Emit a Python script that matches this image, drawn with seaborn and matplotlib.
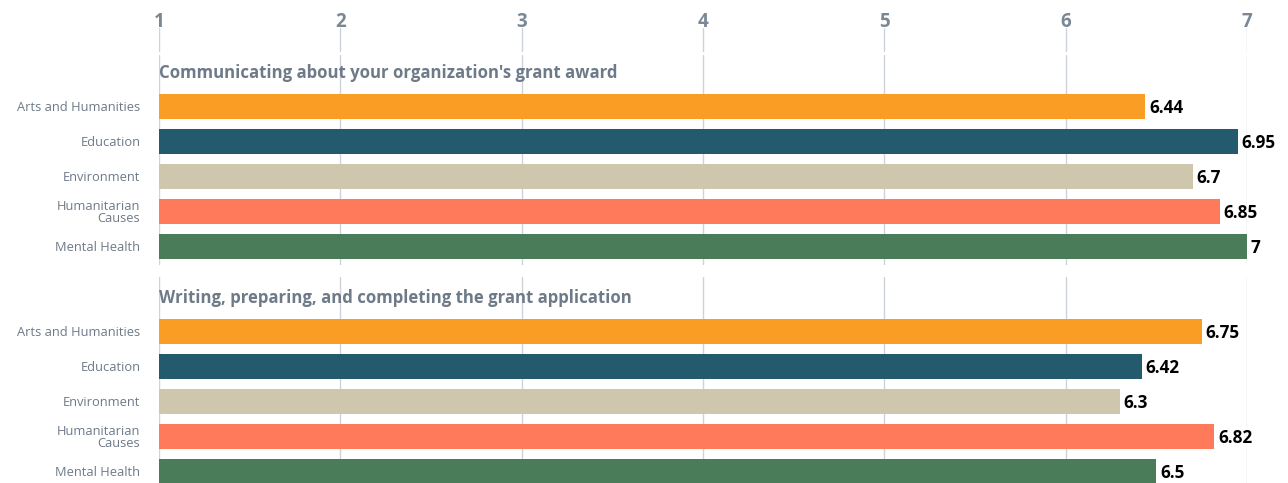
import matplotlib.pyplot as plt
import pandas as pd
import seaborn as sns

categories = ["Arts and Humanities", "Education", "Environment", "Humanitarian\nCauses", "Mental Health"]
colors = ["#F99D25", "#245A6E", "#CFC6AE", "#FF7A5A", "#4A7C59"]
titles = ["Communicating about your organization's grant award",
          "Writing, preparing, and completing the grant application"]
communicating = [6.44, 6.95, 6.7, 6.85, 7]
writing = [6.75, 6.42, 6.3, 6.82, 6.5]
ticks = [1, 2, 3, 4, 5, 6, 7]

sns.set_theme(style="white")
plt.rcParams['font.family'] = ['Open Sans', 'DejaVu Sans']

W, H = 1288, 483
fig = plt.figure(figsize=(W / 100, H / 100), dpi=100)

gridc = "#CDD3DA"
labc = "#6E7A88"
left = 159 / W
width = (1247 - 159) / W

def frac(top, bottom):
    return [left, 1 - bottom / H, width, (bottom - top) / H]

# top tick axis
ax0 = fig.add_axes(frac(28, 52))
ax0.set_xlim(1, 7)
ax0.set_ylim(0, 1)
ax0.set_xticks(ticks)
ax0.xaxis.tick_top()
ax0.tick_params(axis="x", length=0, pad=-3, labelsize=13.5, labelcolor="#7A8794")
for t in ax0.get_xticklabels():
    t.set_fontweight("bold")
ax0.set_yticks([])
ax0.grid(axis="x", color=gridc, linewidth=1)
sns.despine(ax=ax0, left=True, bottom=True, top=True, right=True)

panels = [(communicating, 55, 265, (4.53, -1.47), -1.0),
          (writing, 277, 483, (4.33, -1.557), -1.02)]

for (vals, top, bottom, ylim, ty), title in zip(panels, titles):
    ax = fig.add_axes(frac(top, bottom))
    df = pd.DataFrame({"cat": categories, "val": vals})
    sns.barplot(data=df, y="cat", x="val", hue="cat", palette=colors, order=categories,
                legend=False, width=0.714, saturation=1, linewidth=0, ax=ax)
    # bars start at 1 on the scale
    for p in ax.patches:
        p.set_x(1)
        p.set_width(p.get_width() - 1)
    ax.set_xlim(1, 7)
    ax.set_ylim(*ylim)
    ax.set_xticks(ticks)
    ax.set_xticklabels([])
    ax.tick_params(axis="x", length=0)
    ax.tick_params(axis="y", length=0, pad=13.5, labelsize=9.3, labelcolor=labc)
    for t in ax.get_yticklabels():
        t.set_multialignment("right")
        t.set_linespacing(0.9)
    ax.set_xlabel("")
    ax.set_ylabel("")
    ax.grid(axis="x", color=gridc, linewidth=1)
    ax.set_axisbelow(True)
    sns.despine(ax=ax, left=True, bottom=True, top=True, right=True)
    for i, v in enumerate(vals):
        ax.text(v + 0.02, i, f"{v:g}", va="center_baseline", ha="left", fontsize=12.3,
                fontweight="bold", color="black", clip_on=False)
    ax.text(1, ty, title, va="center_baseline", ha="left", fontsize=12.1, fontweight="bold",
            color=labc)

fig.savefig("out.png", dpi=100)
